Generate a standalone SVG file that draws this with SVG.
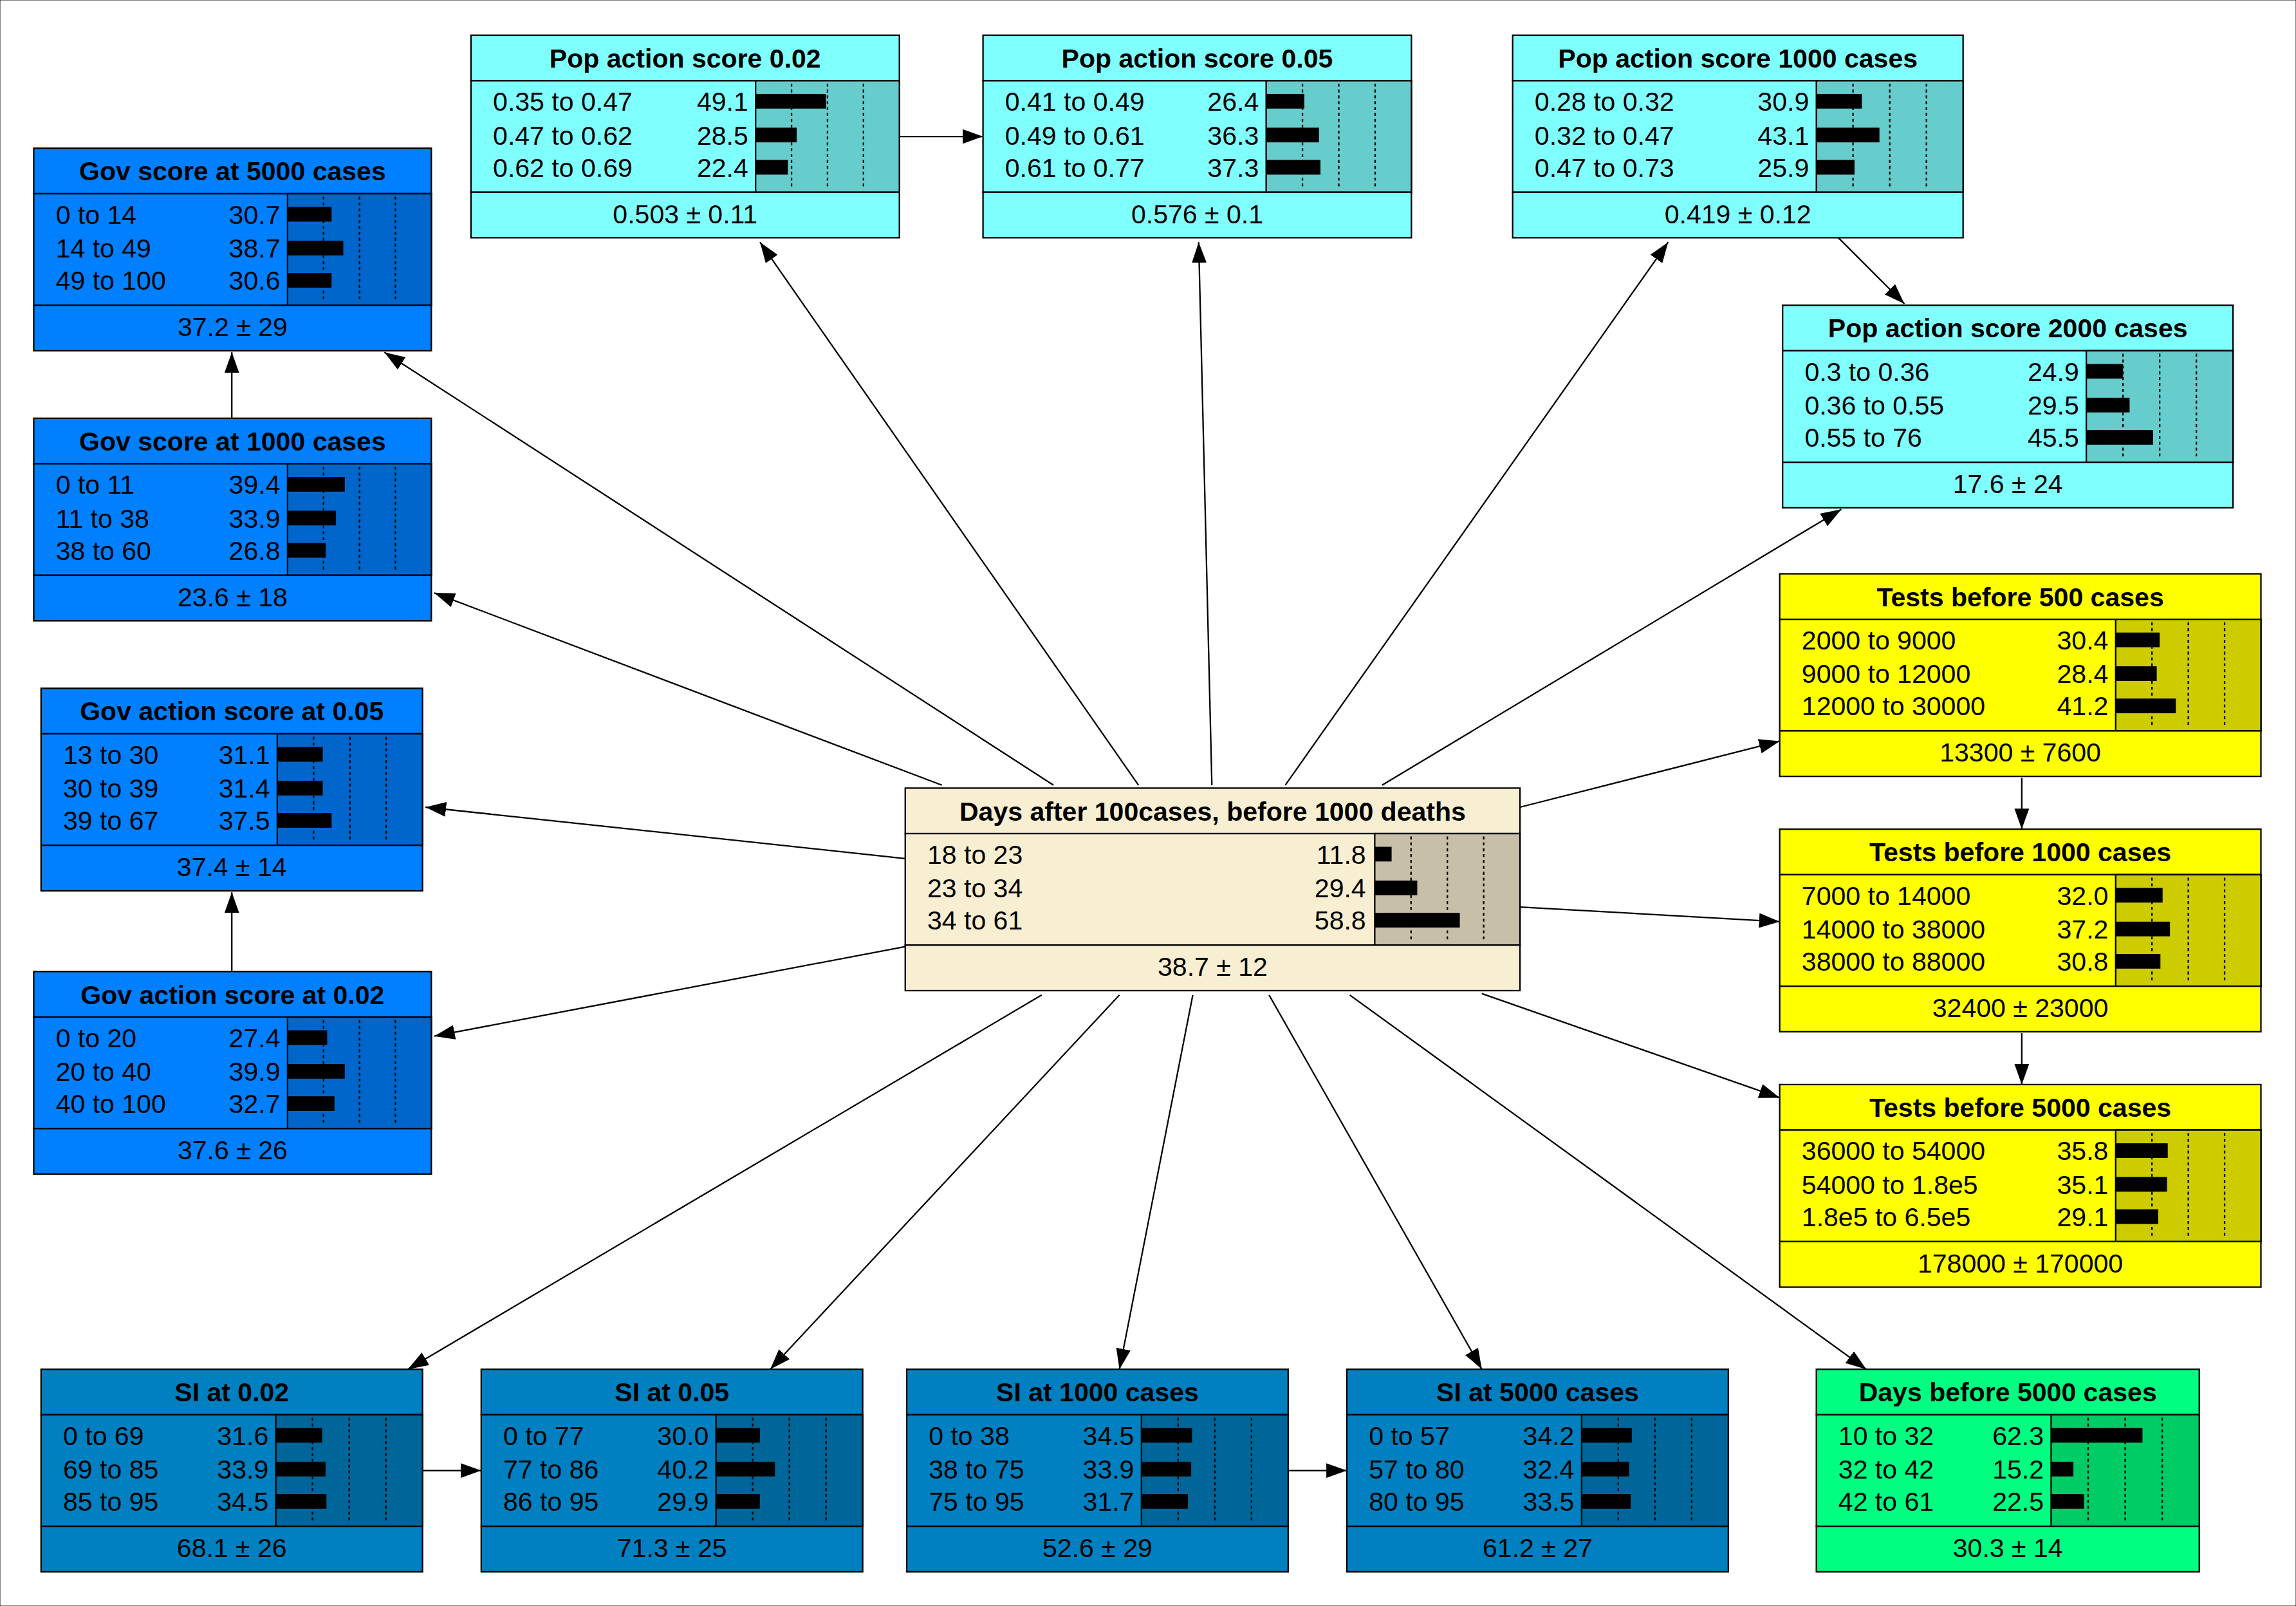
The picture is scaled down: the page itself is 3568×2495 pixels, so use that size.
<svg xmlns="http://www.w3.org/2000/svg" width="3568" height="2495" viewBox="0 0 3568 2495">
<style>
text{font-family:"Liberation Sans",Arial,sans-serif;font-size:18px;fill:#000}
.t{font-weight:bold;text-anchor:middle}
.c{text-anchor:middle}
.v{text-anchor:end}
rect{stroke:#000;stroke-width:1}
.bar{fill:#000;stroke:none}
.d{stroke:#000;stroke-width:1;stroke-dasharray:2,2}
.e{stroke:#000;stroke-width:1;fill:none;marker-end:url(#ah)}
.gov .m{fill:#0080FF}.gov .k{fill:#0066CC}
.pop .m{fill:#80FFFF}.pop .k{fill:#66CCCC}
.tst .m{fill:#FFFF00}.tst .k{fill:#CCCC00}
.cen .m{fill:#F8EED2}.cen .k{fill:#C8BFA9}
.si .m{fill:#0080C0}.si .k{fill:#006699}
.grn .m{fill:#00FF80}.grn .k{fill:#00CC66}
</style>
<defs>
<marker id="ah" markerUnits="userSpaceOnUse" markerWidth="14" markerHeight="10" refX="14" refY="5" orient="auto"><path d="M0,0 L14,5 L0,10 z" fill="#000"/></marker>
</defs>
<rect x="0" y="0" width="3568" height="2495" fill="#fff" stroke="none"/>
<g transform="scale(2.28)">
<g id="connectors">
<path class="e" d="M613,93 L670,93"/>
<path class="e" d="M1253,162 L1298,207"/>
<path class="e" d="M158,285 L158,240"/>
<path class="e" d="M158,662 L158,608"/>
<path class="e" d="M1378,530 L1378,565"/>
<path class="e" d="M1378,704 L1378,739"/>
<path class="e" d="M288,1002 L328,1002"/>
<path class="e" d="M878,1002 L918,1002"/>
<path class="e" d="M718,535 L262,240"/>
<path class="e" d="M642,535 L296,404"/>
<path class="e" d="M617,585 L290,550"/>
<path class="e" d="M617,645 L296,706"/>
<path class="e" d="M776,535 L518,165"/>
<path class="e" d="M826,535 L817,165"/>
<path class="e" d="M876,535 L1137,165"/>
<path class="e" d="M942,535 L1255,347"/>
<path class="e" d="M1036,550 L1213,505"/>
<path class="e" d="M1036,618 L1213,628"/>
<path class="e" d="M1010,677 L1213,748"/>
<path class="e" d="M710,678 L278,933"/>
<path class="e" d="M763,678 L525,933"/>
<path class="e" d="M813,678 L763,933"/>
<path class="e" d="M865,678 L1010,933"/>
<path class="e" d="M920,678 L1272,933"/>
</g>

<g id="gov5000" class="gov" transform="translate(23,101)">
<rect class="m" x="0" y="0" width="271" height="31"/><rect class="m" x="0" y="31" width="271" height="76"/><rect class="k" x="173" y="31" width="98" height="76"/><rect class="m" x="0" y="107" width="271" height="31"/>
<path class="d" d="M197.5,33V105M222,33V105M246.5,33V105"/>
<rect class="bar" x="173" y="40" width="30" height="10"/><rect class="bar" x="173" y="63" width="38" height="10"/><rect class="bar" x="173" y="85" width="30" height="10"/>
<text class="t" x="135.5" y="22">Gov score at 5000 cases</text>
<text x="15" y="51.5">0 to 14</text><text class="v" x="168" y="51.5">30.7</text>
<text x="15" y="74.5">14 to 49</text><text class="v" x="168" y="74.5">38.7</text>
<text x="15" y="96.5">49 to 100</text><text class="v" x="168" y="96.5">30.6</text>
<text class="c" x="135.5" y="128">37.2 ± 29</text>
</g>

<g id="gov1000" class="gov" transform="translate(23,285)">
<rect class="m" x="0" y="0" width="271" height="31"/><rect class="m" x="0" y="31" width="271" height="76"/><rect class="k" x="173" y="31" width="98" height="76"/><rect class="m" x="0" y="107" width="271" height="31"/>
<path class="d" d="M197.5,33V105M222,33V105M246.5,33V105"/>
<rect class="bar" x="173" y="40" width="39" height="10"/><rect class="bar" x="173" y="63" width="33" height="10"/><rect class="bar" x="173" y="85" width="26" height="10"/>
<text class="t" x="135.5" y="22">Gov score at 1000 cases</text>
<text x="15" y="51.5">0 to 11</text><text class="v" x="168" y="51.5">39.4</text>
<text x="15" y="74.5">11 to 38</text><text class="v" x="168" y="74.5">33.9</text>
<text x="15" y="96.5">38 to 60</text><text class="v" x="168" y="96.5">26.8</text>
<text class="c" x="135.5" y="128">23.6 ± 18</text>
</g>

<g id="govact005" class="gov" transform="translate(28,469)">
<rect class="m" x="0" y="0" width="260" height="31"/><rect class="m" x="0" y="31" width="260" height="76"/><rect class="k" x="161" y="31" width="99" height="76"/><rect class="m" x="0" y="107" width="260" height="31"/>
<path class="d" d="M185.75,33V105M210.5,33V105M235.25,33V105"/>
<rect class="bar" x="161" y="40" width="31" height="10"/><rect class="bar" x="161" y="63" width="31" height="10"/><rect class="bar" x="161" y="85" width="37" height="10"/>
<text class="t" x="130" y="22">Gov action score at 0.05</text>
<text x="15" y="51.5">13 to 30</text><text class="v" x="156" y="51.5">31.1</text>
<text x="15" y="74.5">30 to 39</text><text class="v" x="156" y="74.5">31.4</text>
<text x="15" y="96.5">39 to 67</text><text class="v" x="156" y="96.5">37.5</text>
<text class="c" x="130" y="128">37.4 ± 14</text>
</g>

<g id="govact002" class="gov" transform="translate(23,662)">
<rect class="m" x="0" y="0" width="271" height="31"/><rect class="m" x="0" y="31" width="271" height="76"/><rect class="k" x="173" y="31" width="98" height="76"/><rect class="m" x="0" y="107" width="271" height="31"/>
<path class="d" d="M197.5,33V105M222,33V105M246.5,33V105"/>
<rect class="bar" x="173" y="40" width="27" height="10"/><rect class="bar" x="173" y="63" width="39" height="10"/><rect class="bar" x="173" y="85" width="32" height="10"/>
<text class="t" x="135.5" y="22">Gov action score at 0.02</text>
<text x="15" y="51.5">0 to 20</text><text class="v" x="168" y="51.5">27.4</text>
<text x="15" y="74.5">20 to 40</text><text class="v" x="168" y="74.5">39.9</text>
<text x="15" y="96.5">40 to 100</text><text class="v" x="168" y="96.5">32.7</text>
<text class="c" x="135.5" y="128">37.6 ± 26</text>
</g>

<g id="pop002" class="pop" transform="translate(321,24)">
<rect class="m" x="0" y="0" width="292" height="31"/><rect class="m" x="0" y="31" width="292" height="76"/><rect class="k" x="194" y="31" width="98" height="76"/><rect class="m" x="0" y="107" width="292" height="31"/>
<path class="d" d="M218.5,33V105M243,33V105M267.5,33V105"/>
<rect class="bar" x="194" y="40" width="48" height="10"/><rect class="bar" x="194" y="63" width="28" height="10"/><rect class="bar" x="194" y="85" width="22" height="10"/>
<text class="t" x="146" y="22">Pop action score 0.02</text>
<text x="15" y="51.5">0.35 to 0.47</text><text class="v" x="189" y="51.5">49.1</text>
<text x="15" y="74.5">0.47 to 0.62</text><text class="v" x="189" y="74.5">28.5</text>
<text x="15" y="96.5">0.62 to 0.69</text><text class="v" x="189" y="96.5">22.4</text>
<text class="c" x="146" y="128">0.503 ± 0.11</text>
</g>

<g id="pop005" class="pop" transform="translate(670,24)">
<rect class="m" x="0" y="0" width="292" height="31"/><rect class="m" x="0" y="31" width="292" height="76"/><rect class="k" x="193" y="31" width="99" height="76"/><rect class="m" x="0" y="107" width="292" height="31"/>
<path class="d" d="M217.75,33V105M242.5,33V105M267.25,33V105"/>
<rect class="bar" x="193" y="40" width="26" height="10"/><rect class="bar" x="193" y="63" width="36" height="10"/><rect class="bar" x="193" y="85" width="37" height="10"/>
<text class="t" x="146" y="22">Pop action score 0.05</text>
<text x="15" y="51.5">0.41 to 0.49</text><text class="v" x="188" y="51.5">26.4</text>
<text x="15" y="74.5">0.49 to 0.61</text><text class="v" x="188" y="74.5">36.3</text>
<text x="15" y="96.5">0.61 to 0.77</text><text class="v" x="188" y="96.5">37.3</text>
<text class="c" x="146" y="128">0.576 ± 0.1</text>
</g>

<g id="pop1000" class="pop" transform="translate(1031,24)">
<rect class="m" x="0" y="0" width="307" height="31"/><rect class="m" x="0" y="31" width="307" height="76"/><rect class="k" x="207" y="31" width="100" height="76"/><rect class="m" x="0" y="107" width="307" height="31"/>
<path class="d" d="M232,33V105M257,33V105M282,33V105"/>
<rect class="bar" x="207" y="40" width="31" height="10"/><rect class="bar" x="207" y="63" width="43" height="10"/><rect class="bar" x="207" y="85" width="26" height="10"/>
<text class="t" x="153.5" y="22">Pop action score 1000 cases</text>
<text x="15" y="51.5">0.28 to 0.32</text><text class="v" x="202" y="51.5">30.9</text>
<text x="15" y="74.5">0.32 to 0.47</text><text class="v" x="202" y="74.5">43.1</text>
<text x="15" y="96.5">0.47 to 0.73</text><text class="v" x="202" y="96.5">25.9</text>
<text class="c" x="153.5" y="128">0.419 ± 0.12</text>
</g>

<g id="pop2000" class="pop" transform="translate(1215,208)">
<rect class="m" x="0" y="0" width="307" height="31"/><rect class="m" x="0" y="31" width="307" height="76"/><rect class="k" x="207" y="31" width="100" height="76"/><rect class="m" x="0" y="107" width="307" height="31"/>
<path class="d" d="M232,33V105M257,33V105M282,33V105"/>
<rect class="bar" x="207" y="40" width="25" height="10"/><rect class="bar" x="207" y="63" width="29.5" height="10"/><rect class="bar" x="207" y="85" width="45.5" height="10"/>
<text class="t" x="153.5" y="22">Pop action score 2000 cases</text>
<text x="15" y="51.5">0.3 to 0.36</text><text class="v" x="202" y="51.5">24.9</text>
<text x="15" y="74.5">0.36 to 0.55</text><text class="v" x="202" y="74.5">29.5</text>
<text x="15" y="96.5">0.55 to 76</text><text class="v" x="202" y="96.5">45.5</text>
<text class="c" x="153.5" y="128">17.6 ± 24</text>
</g>

<g id="tests500" class="tst" transform="translate(1213,391)">
<rect class="m" x="0" y="0" width="328" height="31"/><rect class="m" x="0" y="31" width="328" height="76"/><rect class="k" x="229" y="31" width="99" height="76"/><rect class="m" x="0" y="107" width="328" height="31"/>
<path class="d" d="M253.75,33V105M278.5,33V105M303.25,33V105"/>
<rect class="bar" x="229" y="40" width="30" height="10"/><rect class="bar" x="229" y="63" width="28" height="10"/><rect class="bar" x="229" y="85" width="41" height="10"/>
<text class="t" x="164" y="22">Tests before 500 cases</text>
<text x="15" y="51.5">2000 to 9000</text><text class="v" x="224" y="51.5">30.4</text>
<text x="15" y="74.5">9000 to 12000</text><text class="v" x="224" y="74.5">28.4</text>
<text x="15" y="96.5">12000 to 30000</text><text class="v" x="224" y="96.5">41.2</text>
<text class="c" x="164" y="128">13300 ± 7600</text>
</g>

<g id="tests1000" class="tst" transform="translate(1213,565)">
<rect class="m" x="0" y="0" width="328" height="31"/><rect class="m" x="0" y="31" width="328" height="76"/><rect class="k" x="229" y="31" width="99" height="76"/><rect class="m" x="0" y="107" width="328" height="31"/>
<path class="d" d="M253.75,33V105M278.5,33V105M303.25,33V105"/>
<rect class="bar" x="229" y="40" width="32" height="10"/><rect class="bar" x="229" y="63" width="37" height="10"/><rect class="bar" x="229" y="85" width="30.5" height="10"/>
<text class="t" x="164" y="22">Tests before 1000 cases</text>
<text x="15" y="51.5">7000 to 14000</text><text class="v" x="224" y="51.5">32.0</text>
<text x="15" y="74.5">14000 to 38000</text><text class="v" x="224" y="74.5">37.2</text>
<text x="15" y="96.5">38000 to 88000</text><text class="v" x="224" y="96.5">30.8</text>
<text class="c" x="164" y="128">32400 ± 23000</text>
</g>

<g id="tests5000" class="tst" transform="translate(1213,739)">
<rect class="m" x="0" y="0" width="328" height="31"/><rect class="m" x="0" y="31" width="328" height="76"/><rect class="k" x="229" y="31" width="99" height="76"/><rect class="m" x="0" y="107" width="328" height="31"/>
<path class="d" d="M253.75,33V105M278.5,33V105M303.25,33V105"/>
<rect class="bar" x="229" y="40" width="35.5" height="10"/><rect class="bar" x="229" y="63" width="35" height="10"/><rect class="bar" x="229" y="85" width="29" height="10"/>
<text class="t" x="164" y="22">Tests before 5000 cases</text>
<text x="15" y="51.5">36000 to 54000</text><text class="v" x="224" y="51.5">35.8</text>
<text x="15" y="74.5">54000 to 1.8e5</text><text class="v" x="224" y="74.5">35.1</text>
<text x="15" y="96.5">1.8e5 to 6.5e5</text><text class="v" x="224" y="96.5">29.1</text>
<text class="c" x="164" y="128">178000 ± 170000</text>
</g>

<g id="central" class="cen" transform="translate(617,537)">
<rect class="m" x="0" y="0" width="419" height="31"/><rect class="m" x="0" y="31" width="419" height="76"/><rect class="k" x="320" y="31" width="99" height="76"/><rect class="m" x="0" y="107" width="419" height="31"/>
<path class="d" d="M344.75,33V105M369.5,33V105M394.25,33V105"/>
<rect class="bar" x="320" y="40" width="11.5" height="10"/><rect class="bar" x="320" y="63" width="29" height="10"/><rect class="bar" x="320" y="85" width="58" height="10"/>
<text class="t" x="209.5" y="22">Days after 100cases, before 1000 deaths</text>
<text x="15" y="51.5">18 to 23</text><text class="v" x="314" y="51.5">11.8</text>
<text x="15" y="74.5">23 to 34</text><text class="v" x="314" y="74.5">29.4</text>
<text x="15" y="96.5">34 to 61</text><text class="v" x="314" y="96.5">58.8</text>
<text class="c" x="209.5" y="128">38.7 ± 12</text>
</g>

<g id="si002" class="si" transform="translate(28,933)">
<rect class="m" x="0" y="0" width="260" height="31"/><rect class="m" x="0" y="31" width="260" height="76"/><rect class="k" x="160" y="31" width="100" height="76"/><rect class="m" x="0" y="107" width="260" height="31"/>
<path class="d" d="M185,33V105M210,33V105M235,33V105"/>
<rect class="bar" x="160" y="40" width="31.6" height="10"/><rect class="bar" x="160" y="63" width="33.9" height="10"/><rect class="bar" x="160" y="85" width="34.5" height="10"/>
<text class="t" x="130" y="22">SI at 0.02</text>
<text x="15" y="51.5">0 to 69</text><text class="v" x="155" y="51.5">31.6</text>
<text x="15" y="74.5">69 to 85</text><text class="v" x="155" y="74.5">33.9</text>
<text x="15" y="96.5">85 to 95</text><text class="v" x="155" y="96.5">34.5</text>
<text class="c" x="130" y="128">68.1 ± 26</text>
</g>

<g id="si005" class="si" transform="translate(328,933)">
<rect class="m" x="0" y="0" width="260" height="31"/><rect class="m" x="0" y="31" width="260" height="76"/><rect class="k" x="160" y="31" width="100" height="76"/><rect class="m" x="0" y="107" width="260" height="31"/>
<path class="d" d="M185,33V105M210,33V105M235,33V105"/>
<rect class="bar" x="160" y="40" width="30" height="10"/><rect class="bar" x="160" y="63" width="40.2" height="10"/><rect class="bar" x="160" y="85" width="29.9" height="10"/>
<text class="t" x="130" y="22">SI at 0.05</text>
<text x="15" y="51.5">0 to 77</text><text class="v" x="155" y="51.5">30.0</text>
<text x="15" y="74.5">77 to 86</text><text class="v" x="155" y="74.5">40.2</text>
<text x="15" y="96.5">86 to 95</text><text class="v" x="155" y="96.5">29.9</text>
<text class="c" x="130" y="128">71.3 ± 25</text>
</g>

<g id="si1000" class="si" transform="translate(618,933)">
<rect class="m" x="0" y="0" width="260" height="31"/><rect class="m" x="0" y="31" width="260" height="76"/><rect class="k" x="160" y="31" width="100" height="76"/><rect class="m" x="0" y="107" width="260" height="31"/>
<path class="d" d="M185,33V105M210,33V105M235,33V105"/>
<rect class="bar" x="160" y="40" width="34.5" height="10"/><rect class="bar" x="160" y="63" width="33.9" height="10"/><rect class="bar" x="160" y="85" width="31.7" height="10"/>
<text class="t" x="130" y="22">SI at 1000 cases</text>
<text x="15" y="51.5">0 to 38</text><text class="v" x="155" y="51.5">34.5</text>
<text x="15" y="74.5">38 to 75</text><text class="v" x="155" y="74.5">33.9</text>
<text x="15" y="96.5">75 to 95</text><text class="v" x="155" y="96.5">31.7</text>
<text class="c" x="130" y="128">52.6 ± 29</text>
</g>

<g id="si5000" class="si" transform="translate(918,933)">
<rect class="m" x="0" y="0" width="260" height="31"/><rect class="m" x="0" y="31" width="260" height="76"/><rect class="k" x="160" y="31" width="100" height="76"/><rect class="m" x="0" y="107" width="260" height="31"/>
<path class="d" d="M185,33V105M210,33V105M235,33V105"/>
<rect class="bar" x="160" y="40" width="34.2" height="10"/><rect class="bar" x="160" y="63" width="32.4" height="10"/><rect class="bar" x="160" y="85" width="33.5" height="10"/>
<text class="t" x="130" y="22">SI at 5000 cases</text>
<text x="15" y="51.5">0 to 57</text><text class="v" x="155" y="51.5">34.2</text>
<text x="15" y="74.5">57 to 80</text><text class="v" x="155" y="74.5">32.4</text>
<text x="15" y="96.5">80 to 95</text><text class="v" x="155" y="96.5">33.5</text>
<text class="c" x="130" y="128">61.2 ± 27</text>
</g>

<g id="days5000" class="grn" transform="translate(1238,933)">
<rect class="m" x="0" y="0" width="261" height="31"/><rect class="m" x="0" y="31" width="261" height="76"/><rect class="k" x="160" y="31" width="101" height="76"/><rect class="m" x="0" y="107" width="261" height="31"/>
<path class="d" d="M185.25,33V105M210.5,33V105M235.75,33V105"/>
<rect class="bar" x="160" y="40" width="62.3" height="10"/><rect class="bar" x="160" y="63" width="15.2" height="10"/><rect class="bar" x="160" y="85" width="22.5" height="10"/>
<text class="t" x="130.5" y="22">Days before 5000 cases</text>
<text x="15" y="51.5">10 to 32</text><text class="v" x="155" y="51.5">62.3</text>
<text x="15" y="74.5">32 to 42</text><text class="v" x="155" y="74.5">15.2</text>
<text x="15" y="96.5">42 to 61</text><text class="v" x="155" y="96.5">22.5</text>
<text class="c" x="130.5" y="128">30.3 ± 14</text>
</g>
</g>
</svg>
